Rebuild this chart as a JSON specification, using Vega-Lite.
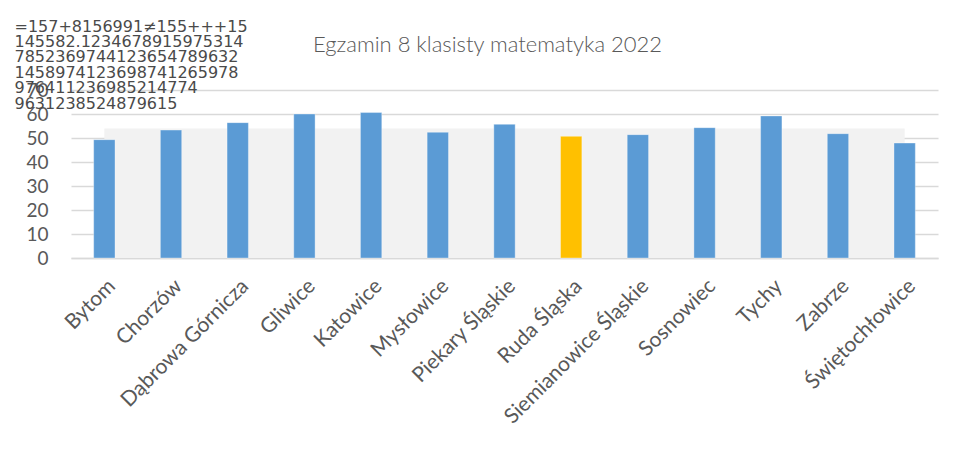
{
  "$schema": "https://vega.github.io/schema/vega-lite/v6.json",
  "autosize": {"type": "none"},
  "width": 867,
  "height": 168,
  "padding": {"left": 71, "top": 90, "right": 19, "bottom": 197},
  "background": "white",
  "title": {
    "text": "Egzamin 8 klasisty matematyka 2022",
    "font": "Lato",
    "fontSize": 22,
    "fontWeight": 300,
    "color": "#595959",
    "anchor": "middle",
    "baseline": "alphabetic",
    "dx": -17,
    "offset": 0,
    "dy": 56
  },
  "config": {
    "view": {"stroke": null},
    "axisY": {
      "grid": true,
      "gridColor": "#d9d9d9",
      "gridWidth": 1.4,
      "domain": false,
      "ticks": false,
      "labelFont": "Lato",
      "labelFontSize": 19,
      "labelColor": "#595959",
      "labelPadding": 23,
      "titleAngle": 0,
      "titleAlign": "left",
      "titleBaseline": "alphabetic",
      "titleX": -57,
      "titleY": -59,
      "titleFont": "DejaVu Sans",
      "titleFontSize": 16,
      "titleFontWeight": "normal",
      "titleColor": "#4a4a4a",
      "titleLineHeight": 15.4
    },
    "axisX": {
      "grid": false,
      "ticks": false,
      "domain": true,
      "domainColor": "#d9d9d9",
      "domainWidth": 1.4,
      "labelAngle": -45,
      "labelFont": "Lato",
      "labelFontSize": 21,
      "labelColor": "#595959",
      "labelPadding": 17,
      "labelLimit": 0,
      "title": null
    }
  },
  "data": {
    "values": [
      {"city": "Bytom", "score": 49.3, "avg": 54},
      {"city": "Chorzów", "score": 53.3, "avg": 54},
      {"city": "Dąbrowa Górnicza", "score": 56.4, "avg": 54},
      {"city": "Gliwice", "score": 60.0, "avg": 54},
      {"city": "Katowice", "score": 60.6, "avg": 54},
      {"city": "Mysłowice", "score": 52.4, "avg": 54},
      {"city": "Piekary Śląskie", "score": 55.7, "avg": 54},
      {"city": "Ruda Śląska", "score": 50.7, "avg": 54},
      {"city": "Siemianowice Śląskie", "score": 51.4, "avg": 54},
      {"city": "Sosnowiec", "score": 54.3, "avg": 54},
      {"city": "Tychy", "score": 59.2, "avg": 54},
      {"city": "Zabrze", "score": 51.8, "avg": 54},
      {"city": "Świętochłowice", "score": 47.9, "avg": 54}
    ]
  },
  "encoding": {
    "x": {
      "field": "city",
      "type": "nominal",
      "sort": null,
      "scale": {"paddingInner": 0.68, "paddingOuter": 0.34}
    }
  },
  "layer": [
    {
      "mark": {"type": "area", "color": "#f2f2f2"},
      "encoding": {
        "y": {
          "field": "avg",
          "type": "quantitative",
          "scale": {"domain": [0, 70], "nice": false},
          "axis": {
            "values": [0, 10, 20, 30, 40, 50, 60, 70],
            "title": ["=157+8156991≠155+++15", "145582.1234678915975314", "7852369744123654789632", "1458974123698741265978", "976411236985214774", "9631238524879615"]
          }
        }
      }
    },
    {
      "mark": {"type": "bar", "stroke": "#ffffff", "strokeOpacity": 0.35, "strokeWidth": 1},
      "encoding": {
        "y": {
          "field": "score",
          "type": "quantitative",
          "axis": {
            "values": [0, 10, 20, 30, 40, 50, 60, 70],
            "title": ["=157+8156991≠155+++15", "145582.1234678915975314", "7852369744123654789632", "1458974123698741265978", "976411236985214774", "9631238524879615"]
          }
        },
        "color": {
          "condition": {"test": "datum.city === 'Ruda Śląska'", "value": "#ffc000"},
          "value": "#5b9bd5"
        }
      }
    }
  ]
}
